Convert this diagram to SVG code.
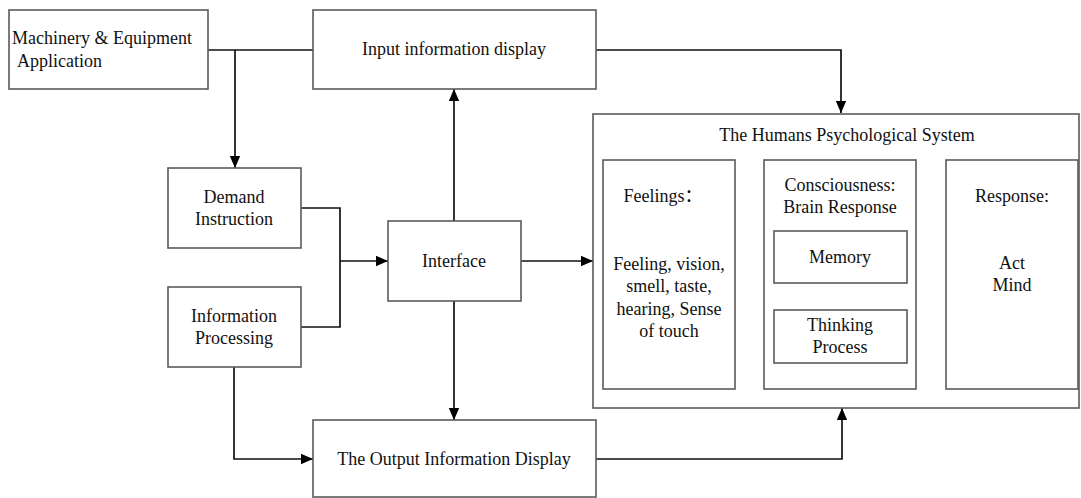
<svg xmlns="http://www.w3.org/2000/svg" width="1081" height="498" viewBox="0 0 1081 498">
<style>
  .box { fill: #fff; stroke: #5a5a5a; stroke-width: 1.6; }
  .t { font-family: 'Liberation Serif', serif; font-size: 18px; fill: #111; text-anchor: middle; }
  .tl { text-anchor: start; }
  .cjk { font-family: 'Liberation Serif', 'Noto Sans CJK SC', serif; }
  .c { fill: none; stroke: #111; stroke-width: 1.7; }
</style>
<defs>
  <marker id="ah" markerUnits="userSpaceOnUse" markerWidth="12" markerHeight="12" viewBox="0 0 12 12" refX="12" refY="6" orient="auto">
    <path d="M0,0.8 L12,6 L0,11.2 Z" fill="#000"/>
  </marker>
</defs>
<rect width="1081" height="498" fill="#fff"/>

<g id="connectors">
  <path class="c" d="M208,50 H313"/>
  <path class="c" d="M235,50 V168" marker-end="url(#ah)"/>
  <path class="c" d="M596,50 H841 V113" marker-end="url(#ah)"/>
  <path class="c" d="M301,208 H340 V327 H301"/>
  <path class="c" d="M340,261 H388" marker-end="url(#ah)"/>
  <path class="c" d="M454,221 V89" marker-end="url(#ah)"/>
  <path class="c" d="M454,301 V420" marker-end="url(#ah)"/>
  <path class="c" d="M521,261 H593" marker-end="url(#ah)"/>
  <path class="c" d="M234,367 V459 H313" marker-end="url(#ah)"/>
  <path class="c" d="M596,459 H842 V408" marker-end="url(#ah)"/>
</g>

<g id="machinery">
  <rect class="box" x="9" y="10" width="199" height="79"/>
  <text class="t tl" x="12" y="44">Machinery &amp; Equipment</text>
  <text class="t tl" x="17" y="67">Application</text>
</g>

<g id="input-display">
  <rect class="box" x="313" y="10" width="283" height="79"/>
  <text class="t" x="454" y="55">Input information display</text>
</g>

<g id="demand">
  <rect class="box" x="168" y="168" width="133" height="80"/>
  <text class="t" x="234" y="203">Demand</text>
  <text class="t" x="234" y="225">Instruction</text>
</g>

<g id="processing">
  <rect class="box" x="168" y="287" width="133" height="80"/>
  <text class="t" x="234" y="322">Information</text>
  <text class="t" x="234" y="344">Processing</text>
</g>

<g id="interface">
  <rect class="box" x="388" y="221" width="133" height="80"/>
  <text class="t" x="454" y="267">Interface</text>
</g>

<g id="output-display">
  <rect class="box" x="313" y="420" width="283" height="77"/>
  <text class="t" x="454" y="465">The Output Information Display</text>
</g>

<g id="psych-system">
  <rect class="box" x="593" y="114" width="486" height="294"/>
  <text class="t" x="847" y="141">The Humans Psychological System</text>
</g>

<g id="feelings">
  <rect class="box" x="603" y="160" width="132" height="229"/>
  <text class="t cjk" x="663" y="202">Feelings：</text>
  <text class="t" x="669" y="270">Feeling, vision,</text>
  <text class="t" x="669" y="292">smell, taste,</text>
  <text class="t" x="669" y="315">hearing, Sense</text>
  <text class="t" x="669" y="337">of touch</text>
</g>

<g id="consciousness">
  <rect class="box" x="764" y="160" width="152" height="229"/>
  <text class="t" x="840" y="191">Consciousness:</text>
  <text class="t" x="840" y="213">Brain Response</text>
</g>

<g id="memory">
  <rect class="box" x="774" y="231" width="133" height="52"/>
  <text class="t" x="840" y="263">Memory</text>
</g>

<g id="thinking">
  <rect class="box" x="774" y="310" width="133" height="53"/>
  <text class="t" x="840" y="331">Thinking</text>
  <text class="t" x="840" y="353">Process</text>
</g>

<g id="response">
  <rect class="box" x="946" y="160" width="132" height="229"/>
  <text class="t" x="1012" y="202">Response:</text>
  <text class="t" x="1012" y="269">Act</text>
  <text class="t" x="1012" y="291">Mind</text>
</g>
</svg>
